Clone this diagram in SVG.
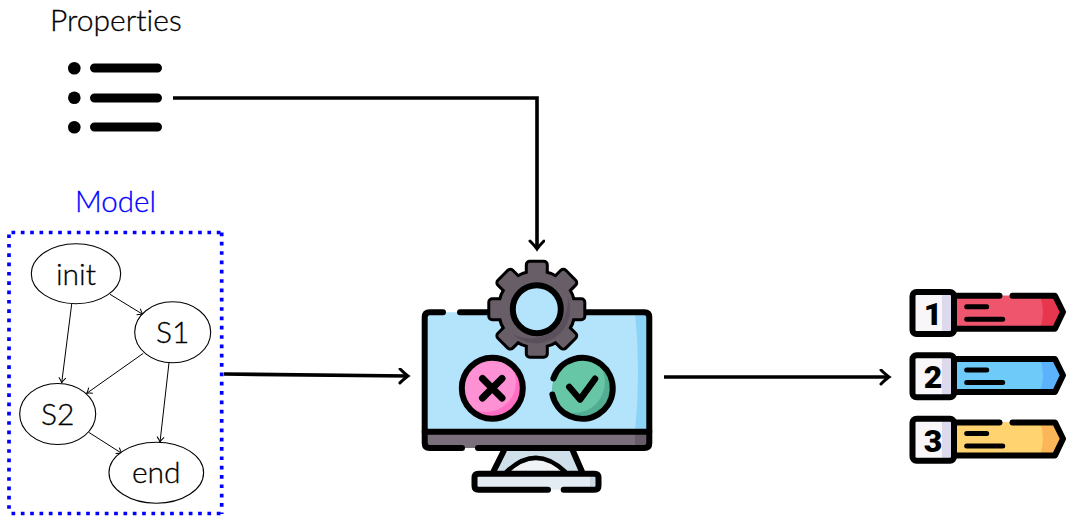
<svg xmlns="http://www.w3.org/2000/svg" xmlns:xlink="http://www.w3.org/1999/xlink" width="1066" height="516" viewBox="0 0 1066 516">
<style>
text{font-family:"Lato","Open Sans",sans-serif;font-weight:300;font-variant-ligatures:none;fill:#000;stroke:#000;stroke-width:.3}
.n{fill:#fff;stroke:#000;stroke-width:1.1}
.lbl{font-size:30px;text-anchor:middle}
.big{stroke:#000;stroke-width:3.6;fill:none}
.thin{stroke:#000;stroke-width:1;fill:none}
.ol{fill:none;stroke:#000;stroke-width:6;stroke-linecap:round;stroke-linejoin:round}
.bar{stroke:#000;stroke-width:9;stroke-linecap:round}
.ln{stroke:#000;stroke-width:5;stroke-linecap:round}
text.dig{font-family:"Roboto","Liberation Sans",sans-serif;font-weight:900;font-size:32px;text-anchor:middle;stroke:none}
</style>
<defs>
<marker id="ah" markerUnits="userSpaceOnUse" markerWidth="16" markerHeight="18" refX="13" refY="8" orient="auto"><path d="M5 1Q10 6 13 8Q10 10 5 15" fill="none" stroke="#000" stroke-width="3" stroke-linecap="round"/></marker>
<marker id="as" markerUnits="userSpaceOnUse" markerWidth="10" markerHeight="10" refX="8" refY="5" orient="auto"><path d="M3 1.500Q6 4 8 5Q6 6 3 8.500" fill="none" stroke="#000" stroke-width="1"/></marker>
<clipPath id="cp"><circle cx="492.300" cy="388.300" r="30"/></clipPath>
<clipPath id="cg"><circle cx="582.300" cy="388.300" r="30"/></clipPath>
<g id="teeth">
<circle r="37"/>
<rect x="-9" y="-46.500" width="18" height="93" rx="2"/>
<rect x="-9" y="-46.500" width="18" height="93" rx="2" transform="rotate(45)"/>
<rect x="-9" y="-46.500" width="18" height="93" rx="2" transform="rotate(90)"/>
<rect x="-9" y="-46.500" width="18" height="93" rx="2" transform="rotate(135)"/>
</g>
<g id="tagbase">
<rect x="912.500" y="292" width="41.500" height="42" rx="3" fill="#f8f6f8"/>
<rect x="942" y="292" width="12" height="42" fill="#dcd9ec"/>
<rect x="912.500" y="292" width="41.500" height="42" rx="4" class="ol"/>
<path d="M966.700 306.700H986.700M966.700 319.300H1002.700" class="ln"/>
</g>
</defs>
<rect width="1066" height="516" fill="#fff"/>

<g id="connectors">
<path d="M173 98H537V249" class="big" marker-end="url(#ah)"/>
<path d="M224 374L408 376" class="big" marker-end="url(#ah)"/>
<path d="M664 377H889" class="big" marker-end="url(#ah)"/>
</g>

<g id="properties">
<text x="50" y="30.500" font-size="30">Properties</text>
<circle cx="74.300" cy="68.300" r="6.300"/><circle cx="74.300" cy="97.800" r="6.300"/><circle cx="74.300" cy="127.300" r="6.300"/>
<path d="M94.500 68H157.500M94.500 98H157.500M94.500 127H157.500" class="bar"/>
</g>

<g id="model">
<text x="115.500" y="212.300" font-size="29.500" style="fill:#00f;stroke:#00f" text-anchor="middle">Model</text>
<path d="M11.500 232.500H222M9 234.500V238M9 243.900V514M221.700 232.500V514M11.500 513.500H222" fill="none" stroke="#00f" stroke-width="3.700" stroke-dasharray="3.700 5.630"/>
</g>

<g id="edges">
<path d="M110 294.300L142.700 314.300" class="thin" marker-end="url(#as)"/>
<path d="M71.700 304L61.700 382.700" class="thin" marker-end="url(#as)"/>
<path d="M143.300 353.300L86.700 393.300" class="thin" marker-end="url(#as)"/>
<path d="M169 362.700L160 442" class="thin" marker-end="url(#as)"/>
<path d="M88.700 432.300L121.700 453.300" class="thin" marker-end="url(#as)"/>
</g>
<g id="init"><ellipse class="n" cx="76" cy="273.700" rx="44.700" ry="30"/><text class="lbl" x="76" y="285">init</text></g>
<g id="S1"><ellipse class="n" cx="172.700" cy="332.300" rx="38" ry="30.500"/><text class="lbl" x="172.700" y="343.300">S1</text></g>
<g id="S2"><ellipse class="n" cx="57.700" cy="414" rx="38" ry="30.500"/><text class="lbl" x="57.700" y="425">S2</text></g>
<g id="end"><ellipse class="n" cx="156.300" cy="472.700" rx="47.300" ry="30.500"/><text class="lbl" x="156.300" y="483.300">end</text></g>

<g id="checker">
<path d="M493.700 472L503.700 450H573L581.700 472Z" fill="#cfe0ea"/>
<path d="M506.700 472Q536 444 565 472Z" fill="#f1f4f7"/>
<path d="M493.700 471L503.700 451M573 451L581.700 471" class="ol"/>
<path d="M506.700 471.700Q536 444 565 471.700" fill="none" stroke="#000" stroke-width="4.500" stroke-linecap="round"/>
<rect x="424.700" y="312.300" width="224.600" height="135.700" rx="5" fill="#b3e4fb"/>
<path d="M635 312.300H644.300Q649.300 312.300 649.300 317.300V432H635Q641 372 635 312.300Z" fill="#8bd4f7"/>
<rect x="424.700" y="431.700" width="224.600" height="16.300" fill="#786f7b"/>
<rect x="635" y="431.700" width="14.300" height="16.300" fill="#665d68"/>
<path d="M460 312.300H644.300Q649.300 312.300 649.300 317.300V443Q649.300 448 644.300 448H478M462 448H429.700Q424.700 448 424.700 443V317.300Q424.700 312.300 429.700 312.300H443" class="ol"/>
<path d="M424.700 431.700H649.300" class="ol"/>
<rect x="474.500" y="473.700" width="124" height="16" fill="#e4ecf3"/>
<rect x="590" y="473.700" width="8.500" height="16" fill="#c9d8e2"/>
<path d="M563.700 489.700H594.500Q598.500 489.700 598.500 485.700V477.700Q598.500 473.700 594.500 473.700H478.500Q474.500 473.700 474.500 477.700V485.700Q474.500 489.700 478.500 489.700H548" class="ol"/>

<g transform="translate(536.800 309.200)">
<use xlink:href="#teeth" fill="#000" stroke="#000" stroke-width="6" stroke-linejoin="round"/>
<use xlink:href="#teeth" fill="#685e68"/>
<path d="M31 -12A34 34 0 0 1 -24 25A38 38 0 0 0 31 -12Z" fill="#5a505b"/>
<circle r="24" fill="#b3e4fb" stroke="#000" stroke-width="6"/>
</g>

<circle cx="492.300" cy="388.300" r="30" fill="#fe6ec2"/>
<circle cx="486" cy="382" r="30" fill="#fe91d3" clip-path="url(#cp)"/>
<circle cx="492.300" cy="388.300" r="30.500" class="ol"/>
<path d="M482.500 378.500L502 398M502 378.500L482.500 398" fill="none" stroke="#000" stroke-width="7" stroke-linecap="round"/>

<circle cx="582.300" cy="388.300" r="30" fill="#52ad92"/>
<circle cx="574" cy="382" r="31" fill="#66c6a5" clip-path="url(#cg)"/>
<path d="M553.400 378.500A30.500 30.500 0 1 1 552.400 394.500" class="ol"/>
<path d="M569.300 387L580 399.500L595 378.800" fill="none" stroke="#000" stroke-width="6.500" stroke-linecap="round" stroke-linejoin="round"/>
</g>

<g id="result1">
<path d="M954 295.700H1055L1063 312L1055 328.700H954Z" fill="#e6374f"/>
<path d="M954 295.700H1040Q1046 312 1040 328.700H954Z" fill="#ef566e"/>
<path d="M1012.500 295.700H1055L1063 312L1055 328.700H954M954 295.700H999.500" class="ol"/>
<use xlink:href="#tagbase"/>
<text class="dig" x="933" y="325">1</text>
</g>
<g id="result2" transform="translate(0 63.300)">
<path d="M954 295.700H1055L1063 312L1055 328.700H954Z" fill="#5cb3fc"/>
<path d="M954 295.700H1040Q1046 312 1040 328.700H954Z" fill="#6ecbf9"/>
<path d="M954 295.700H1055L1063 312L1055 328.700H954" class="ol"/>
<use xlink:href="#tagbase"/>
<text class="dig" x="933" y="325">2</text>
</g>
<g id="result3" transform="translate(0 126.700)">
<path d="M954 295.700H1055L1063 312L1055 328.700H954Z" fill="#fbb659"/>
<path d="M954 295.700H1040Q1046 312 1040 328.700H954Z" fill="#ffd36f"/>
<path d="M1012.500 295.700H1055L1063 312L1055 328.700H954M954 295.700H999.500" class="ol"/>
<use xlink:href="#tagbase"/>
<text class="dig" x="933" y="325">3</text>
</g>
</svg>
